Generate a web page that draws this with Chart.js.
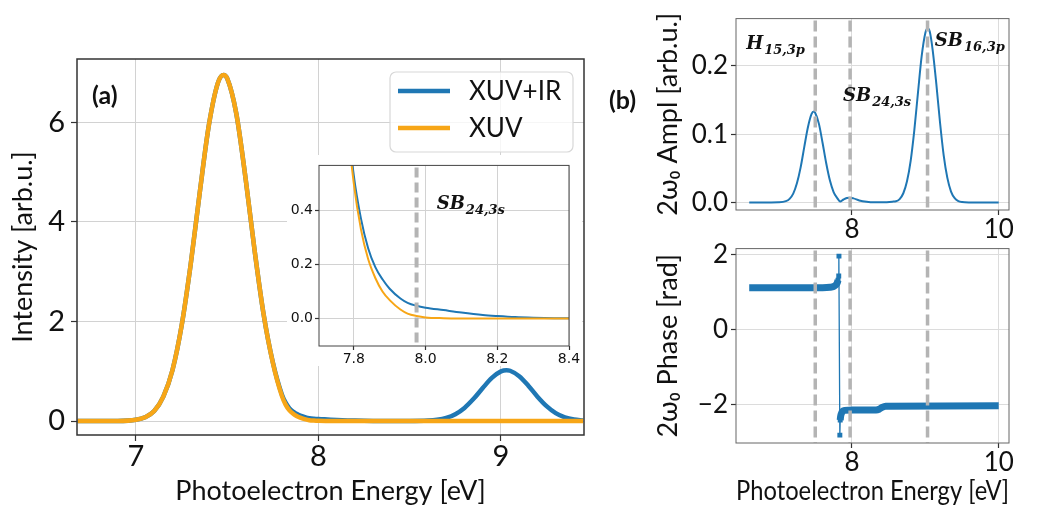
<!DOCTYPE html>
<html>
<head>
<meta charset="utf-8">
<script src="https://cdn.jsdelivr.net/npm/chart.js@4.4.1/dist/chart.umd.min.js"></script>
<style>
  html, body { margin: 0; padding: 0; background: #fff; }
  #page { position: relative; width: 1040px; height: 506px; overflow: hidden; }
  canvas { position: absolute; }
  .panel { position: absolute; font: bold 25px Lato, 'Liberation Sans', sans-serif; color: #111; }
</style>
</head>
<body>
<div id="page">
  <canvas id="mainChart" width="600" height="506" style="left:0px;top:0px"></canvas>
  <canvas id="insetChart" width="295" height="211" style="left:287px;top:155px"></canvas>
  <canvas id="amplChart" width="440" height="245" style="left:600px;top:0px"></canvas>
  <canvas id="phaseChart" width="440" height="276" style="left:600px;top:230px"></canvas>
  <div class="panel" style="left:92px;top:79px">(a)</div>
  <div class="panel" style="left:609px;top:84px">(b)</div>
</div>
<script>
// ---- values ----
// panel (a): photoelectron spectra
const energyA = [6.68, 6.9, 7.0, 7.05, 7.1, 7.15, 7.2, 7.25, 7.3, 7.35, 7.4, 7.45, 7.48, 7.5, 7.55,
  7.6, 7.65, 7.7, 7.75, 7.8, 7.82, 7.84, 7.86, 7.88, 7.9, 7.93, 7.95, 7.975, 8.0, 8.05,
  8.1, 8.16, 8.2, 8.25, 8.3, 8.4, 8.5, 8.6, 8.65, 8.7, 8.75, 8.8, 8.85, 8.9, 8.95,
  9.0, 9.03, 9.05, 9.1, 9.15, 9.2, 9.25, 9.3, 9.35, 9.4, 9.45];
const intensityXuvIr = [0, 0.001, 0.025, 0.076, 0.20, 0.49, 1.02, 1.91, 3.15, 4.60, 5.95, 6.80, 6.95, 6.88, 6.17,
  4.89, 3.43, 2.13, 1.18, 0.53, 0.37, 0.26, 0.19, 0.145, 0.11, 0.074, 0.058, 0.047, 0.04, 0.031,
  0.022, 0.013, 0.009, 0.005, 0.003, 0.001, 0.001, 0.009, 0.026, 0.063, 0.138, 0.264, 0.446, 0.663, 0.866,
  0.997, 1.02, 1.01, 0.90, 0.71, 0.49, 0.30, 0.16, 0.075, 0.031, 0.011];
const intensityXuv = [0, 0.001, 0.025, 0.076, 0.20, 0.49, 1.02, 1.91, 3.15, 4.60, 5.95, 6.80, 6.95, 6.88, 6.17,
  4.89, 3.43, 2.13, 1.17, 0.50, 0.33, 0.22, 0.15, 0.10, 0.068, 0.033, 0.018, 0.009, 0.004, 0.0012,
  0.0002, 0, 0, 0, 0, 0, 0, 0, 0, 0, 0, 0, 0, 0, 0,
  0, 0, 0, 0, 0, 0, 0, 0, 0, 0, 0];
const seriesNames = ['XUV+IR', 'XUV'];

// panel (b) top: 2w0 amplitude
const energyB = [6.6, 6.9, 7.0, 7.1, 7.15, 7.2, 7.25, 7.3, 7.35, 7.4, 7.45, 7.48, 7.5, 7.55, 7.6,
  7.65, 7.7, 7.75, 7.8, 7.84, 7.88, 7.93, 7.97, 8.02, 8.1, 8.2, 8.3, 8.45, 8.55, 8.6,
  8.65, 8.7, 8.75, 8.8, 8.85, 8.9, 8.95, 9.0, 9.03, 9.06, 9.1, 9.15, 9.2, 9.25, 9.3,
  9.35, 9.4, 9.45, 9.5, 9.6, 10.0];
const amplitude2w = [0, 0, 0.0002, 0.0019, 0.0053, 0.013, 0.028, 0.051, 0.081, 0.110, 0.1295, 0.133, 0.131, 0.115, 0.087,
  0.057, 0.032, 0.0153, 0.0064, 0.0015, 0.004, 0.0065, 0.007, 0.006, 0.003, 0.001, 0.0002, 0.0003, 0.0012, 0.0017,
  0.005, 0.0135, 0.031, 0.061, 0.106, 0.161, 0.214, 0.248, 0.255, 0.250, 0.223, 0.173, 0.117, 0.069, 0.036,
  0.016, 0.0063, 0.002, 0.0006, 0.0001, 0];

// panel (b) bottom: 2w0 phase (plateau below the jump, the jump itself, plateau above)
const phaseEnergyLow = [6.6, 7.6, 7.7, 7.75, 7.78, 7.80, 7.81];
const phaseLow = [1.11, 1.11, 1.12, 1.14, 1.18, 1.24, 1.31];
const phaseEnergyJump = [7.81, 7.82, 7.823, 7.835, 7.84];
const phaseJump = [1.31, 1.42, 1.95, -2.82, -2.42];
const phaseEnergyHigh = [7.84, 7.845, 7.855, 7.87, 7.9, 8.0, 8.33, 8.37, 8.41, 8.46, 10.0];
const phaseHigh = [-2.42, -2.33, -2.25, -2.19, -2.16, -2.15, -2.15, -2.13, -2.08, -2.05, -2.04];

// peaks marked by dashed lines
const peakNames = ['H', 'SB', 'SB'];
const peakSubs = ['15,3p', '24,3s', '16,3p'];
const peakEnergies = [7.50, 7.975, 9.03];

// tick labels
const ticksMainX = [7, 8, 9];
const ticksMainY = [0, 2, 4, 6];
const ticksInsetX = [7.8, 8.0, 8.2, 8.4];
const ticksInsetY = [0.0, 0.2, 0.4];
const ticksBX = [8, 10];
const ticksAmplY = [0.0, 0.1, 0.2];
const ticksPhaseY = [-2, 0, 2];

// ---- drawing ----
const FONT = "Lato, 'Liberation Sans', sans-serif";
const BLUE = '#1f77b4';
const ORANGE = '#f7a617';
const pts = (xs, ys) => xs.map((x, i) => ({ x: x, y: ys[i] }));
const fmtMinus = v => (v < 0 ? '\u2212' + Math.abs(v) : String(v));

const whiteBg = {
  id: 'whiteBg',
  beforeDraw(chart, args, opts) {
    if (!opts.on) return;
    const ctx = chart.ctx;
    ctx.save();
    ctx.fillStyle = '#fff';
    ctx.fillRect(0, 0, chart.width, chart.height);
    ctx.restore();
  }
};

const frame = {
  id: 'frame',
  afterDraw(chart, args, opts) {
    const { ctx, chartArea: a } = chart;
    ctx.save();
    ctx.strokeStyle = opts.color || '#333';
    ctx.lineWidth = opts.width || 1;
    ctx.strokeRect(a.left, a.top, a.right - a.left, a.bottom - a.top);
    ctx.restore();
  }
};

const markerLines = {
  id: 'markerLines',
  afterDatasetsDraw(chart, args, opts) {
    if (!opts.energies) return;
    const { ctx, chartArea: a } = chart;
    const x = chart.scales.x;
    ctx.save();
    ctx.strokeStyle = '#b4b4b4';
    ctx.lineWidth = opts.width;
    ctx.setLineDash(opts.dash);
    opts.energies.forEach(e => {
      const px = x.getPixelForValue(e);
      ctx.beginPath();
      ctx.moveTo(px, a.top + 2);
      ctx.lineTo(px, a.bottom);
      ctx.stroke();
    });
    ctx.restore();
  }
};

const peakLabels = {
  id: 'peakLabels',
  afterDraw(chart, args, opts) {
    if (!opts.items) return;
    const ctx = chart.ctx;
    const { x, y } = chart.scales;
    ctx.save();
    ctx.fillStyle = '#111';
    ctx.textBaseline = 'alphabetic';
    opts.items.forEach(it => {
      const px = x.getPixelForValue(it.x);
      const py = y.getPixelForValue(it.y);
      ctx.font = "italic bold 18px 'DejaVu Serif', serif";
      ctx.fillText(peakNames[it.i], px, py);
      const w = ctx.measureText(peakNames[it.i]).width;
      ctx.font = "italic bold 13px 'DejaVu Serif', serif";
      ctx.fillText(peakSubs[it.i], px + w + 1, py + 5);
    });
    ctx.restore();
  }
};

const boxLegend = {
  id: 'boxLegend',
  afterDraw(chart, args, opts) {
    if (!opts.width) return;
    const { ctx, chartArea: a } = chart;
    const x0 = a.right - opts.right - opts.width;
    const y0 = a.top + opts.top;
    ctx.save();
    ctx.fillStyle = 'rgba(255,255,255,0.8)';
    ctx.strokeStyle = '#d8d8d8';
    ctx.lineWidth = 1.2;
    ctx.beginPath();
    ctx.roundRect(x0, y0, opts.width, opts.height, 6);
    ctx.fill();
    ctx.stroke();
    chart.data.datasets.forEach((ds, i) => {
      const yy = y0 + 19 + i * 37;
      ctx.strokeStyle = ds.borderColor;
      ctx.lineWidth = ds.borderWidth;
      ctx.beginPath();
      ctx.moveTo(x0 + 8, yy);
      ctx.lineTo(x0 + 60, yy);
      ctx.stroke();
      ctx.fillStyle = '#111';
      ctx.font = '26px ' + FONT;
      ctx.textBaseline = 'middle';
      ctx.fillText(ds.label, x0 + 79, yy + 1);
    });
    ctx.restore();
  }
};

function axis(o) {
  const ax = {
    type: 'linear',
    min: o.min,
    max: o.max,
    afterBuildTicks: s => { s.ticks = o.ticks.map(v => ({ value: v })); },
    afterFit: s => { if (o.isX) s.height = o.size; else s.width = o.size; },
    border: { display: false },
    grid: { color: o.gridColor || '#d2d2d2', lineWidth: 1, tickLength: o.tickLen || 5, tickColor: '#333', tickWidth: 1.2 },
    ticks: { font: { family: o.family || FONT, size: o.fontSize }, color: '#111', padding: o.pad, maxRotation: 0, callback: o.fmt }
  };
  if (o.title) {
    ax.title = { display: true, text: o.title, color: '#111', font: { family: FONT, size: 27, lineHeight: 1.1 }, padding: { top: o.titlePad || 0, bottom: 0 } };
  }
  return ax;
}

const common = {
  responsive: false,
  animation: false,
  devicePixelRatio: 1,
  events: []
};

// panel (a)
new Chart(document.getElementById('mainChart'), {
  type: 'line',
  data: {
    datasets: [
      { label: seriesNames[0], data: pts(energyA, intensityXuvIr), borderColor: BLUE, borderWidth: 4.5, pointRadius: 0, cubicInterpolationMode: 'monotone', order: 2 },
      { label: seriesNames[1], data: pts(energyA, intensityXuv), borderColor: ORANGE, borderWidth: 4.5, pointRadius: 0, cubicInterpolationMode: 'monotone', order: 1 }
    ]
  },
  options: Object.assign({}, common, {
    layout: { padding: { top: 59, right: 16, left: 0, bottom: 0 } },
    scales: {
      x: axis({ isX: true, min: 6.677, max: 9.455, ticks: ticksMainX, size: 71, fontSize: 29, pad: -2, tickLen: 6, fmt: v => String(v), title: 'Photoelectron Energy [eV]' }),
      y: axis({ min: -0.28, max: 7.27, ticks: ticksMainY, size: 77, fontSize: 29, pad: 6, tickLen: 6, fmt: v => String(v), title: 'Intensity [arb.u.]', titlePad: 8 })
    },
    plugins: {
      legend: { display: false },
      tooltip: { enabled: false },
      frame: { color: '#333', width: 1.5 },
      boxLegend: { width: 183, height: 80, right: 11, top: 13 }
    }
  }),
  plugins: [frame, boxLegend]
});

// inset of panel (a)
new Chart(document.getElementById('insetChart'), {
  type: 'line',
  data: {
    datasets: [
      { label: seriesNames[0], data: pts(energyA, intensityXuvIr), borderColor: BLUE, borderWidth: 2, pointRadius: 0, cubicInterpolationMode: 'monotone', order: 2 },
      { label: seriesNames[1], data: pts(energyA, intensityXuv), borderColor: ORANGE, borderWidth: 2, pointRadius: 0, cubicInterpolationMode: 'monotone', order: 1 }
    ]
  },
  options: Object.assign({}, common, {
    layout: { padding: { top: 6, right: 13, left: 0, bottom: 0 } },
    scales: {
      x: axis({ isX: true, min: 7.703, max: 8.4, ticks: ticksInsetX, size: 20, fontSize: 14, family: "'DejaVu Sans', sans-serif", pad: 1, tickLen: 4, fmt: v => v.toFixed(1) }),
      y: axis({ min: -0.102, max: 0.567, ticks: ticksInsetY, size: 32, fontSize: 14, family: "'DejaVu Sans', sans-serif", pad: 2, tickLen: 4, fmt: v => v.toFixed(1) })
    },
    plugins: {
      legend: { display: false },
      tooltip: { enabled: false },
      whiteBg: { on: true },
      frame: { color: '#444', width: 1 },
      markerLines: { energies: [peakEnergies[1]], width: 4, dash: [10, 5] },
      peakLabels: { items: [{ i: 1, x: 8.031, y: 0.404 }] }
    }
  }),
  plugins: [whiteBg, frame, markerLines, peakLabels]
});

// panel (b) top: amplitude
new Chart(document.getElementById('amplChart'), {
  type: 'line',
  data: {
    datasets: [
      { label: '2w0 amplitude', data: pts(energyB, amplitude2w), borderColor: BLUE, borderWidth: 2, pointRadius: 0, cubicInterpolationMode: 'monotone' }
    ]
  },
  options: Object.assign({}, common, {
    layout: { padding: { top: 7, right: 31, left: 0, bottom: 0 } },
    scales: {
      x: axis({ isX: true, min: 6.42, max: 10.14, ticks: ticksBX, size: 35, fontSize: 26, pad: -1, gridColor: '#dcdcdc', fmt: v => String(v) }),
      y: axis({ min: -0.011, max: 0.269, ticks: ticksAmplY, size: 136, fontSize: 26, pad: 3, gridColor: '#dcdcdc', fmt: v => v.toFixed(1), title: '2\u03c9\u2080 Ampl [arb.u.]', titlePad: 53 })
    },
    plugins: {
      legend: { display: false },
      tooltip: { enabled: false },
      frame: { color: '#666', width: 1 },
      markerLines: { energies: peakEnergies, width: 3.5, dash: [11, 5] },
      peakLabels: { items: [{ i: 0, x: 6.558, y: 0.224 }, { i: 1, x: 7.878, y: 0.149 }, { i: 2, x: 9.129, y: 0.229 }] }
    }
  }),
  plugins: [frame, markerLines, peakLabels]
});

// panel (b) bottom: phase
new Chart(document.getElementById('phaseChart'), {
  type: 'line',
  data: {
    datasets: [
      { label: 'phase low', data: pts(phaseEnergyLow, phaseLow), borderColor: BLUE, borderWidth: 7, borderCapStyle: 'butt', pointRadius: 0, cubicInterpolationMode: 'monotone' },
      { label: 'phase jump', data: pts(phaseEnergyJump, phaseJump), borderColor: BLUE, borderWidth: 1.3, pointStyle: 'rect', pointRadius: 3.5, pointBorderWidth: 0, pointBackgroundColor: BLUE, tension: 0 },
      { label: 'phase high', data: pts(phaseEnergyHigh, phaseHigh), borderColor: BLUE, borderWidth: 7, borderCapStyle: 'butt', pointRadius: 0, cubicInterpolationMode: 'monotone' }
    ]
  },
  options: Object.assign({}, common, {
    layout: { padding: { top: 11, right: 31, left: 0, bottom: 0 } },
    scales: {
      x: axis({ isX: true, min: 6.42, max: 10.14, ticks: ticksBX, size: 63, fontSize: 26, pad: -1, gridColor: '#dcdcdc', fmt: v => String(v), title: 'Photoelectron Energy [eV]' }),
      y: axis({ min: -3.03, max: 2.15, ticks: ticksPhaseY, size: 136, fontSize: 26, pad: 3, gridColor: '#dcdcdc', fmt: fmtMinus, title: '2\u03c9\u2080 Phase [rad]', titlePad: 53 })
    },
    plugins: {
      legend: { display: false },
      tooltip: { enabled: false },
      frame: { color: '#666', width: 1 },
      markerLines: { energies: peakEnergies, width: 3.5, dash: [11, 5] }
    }
  }),
  plugins: [frame, markerLines]
});
</script>
</body>
</html>
